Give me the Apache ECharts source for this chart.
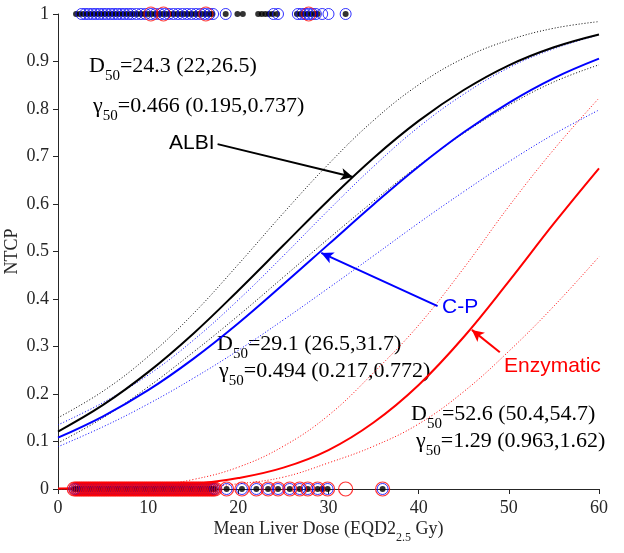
<!DOCTYPE html>
<html>
<head>
<meta charset="utf-8">
<script src="https://cdn.jsdelivr.net/npm/echarts@6/dist/echarts.min.js"></script>
<style>html,body{margin:0;padding:0;background:#fff}#c{width:624px;height:553px}</style>
</head>
<body>
<div id="c"></div>
<script>
// ---- data ----
const doses = [0, 5, 10, 15, 20, 25, 30, 35, 40, 45, 50, 55, 60];
const albiFit   = [0.121, 0.177, 0.246, 0.327, 0.418, 0.513, 0.608, 0.697, 0.775, 0.840, 0.892, 0.930, 0.957];
const albiUpper = [0.150, 0.206, 0.279, 0.369, 0.473, 0.581, 0.684, 0.776, 0.851, 0.907, 0.945, 0.970, 0.984];
const albiLower = [0.097, 0.150, 0.215, 0.288, 0.365, 0.446, 0.527, 0.606, 0.681, 0.749, 0.808, 0.857, 0.893];
const cpFit     = [0.108, 0.153, 0.208, 0.274, 0.349, 0.431, 0.515, 0.599, 0.679, 0.751, 0.813, 0.865, 0.906];
const cpUpper   = [0.135, 0.182, 0.240, 0.313, 0.398, 0.491, 0.587, 0.679, 0.762, 0.831, 0.887, 0.927, 0.956];
const cpLower   = [0.089, 0.131, 0.179, 0.233, 0.292, 0.356, 0.423, 0.491, 0.560, 0.626, 0.689, 0.747, 0.798];
const enzFit    = [0.001, 0.002, 0.004, 0.010, 0.023, 0.045, 0.082, 0.140, 0.219, 0.320, 0.437, 0.559, 0.675];
const enzUpper  = [0.000, 0.001, 0.006, 0.020, 0.046, 0.090, 0.155, 0.245, 0.345, 0.465, 0.595, 0.715, 0.823];
const enzLower  = [0.000, 0.000, 0.001, 0.004, 0.011, 0.025, 0.055, 0.090, 0.137, 0.205, 0.290, 0.385, 0.489];

const albiEvents = [2.0,2.4,2.8,3.2,3.6,4.0,4.4,4.8,5.2,5.6,6.0,6.4,6.8,7.2,7.6,8.0,8.4,8.8,9.2,9.6,10.0,10.4,10.8,11.2,11.6,12.0,12.4,12.8,13.2,13.6,14.0,14.4,14.8,15.2,15.6,16.0,16.4,16.8,17.1,18.6,19.9,20.5,22.2,22.6,23.0,23.4,23.8,24.3,26.5,26.9,27.3,27.7,28.1,28.5,28.8,31.9];
const cpEvents   = [2.6,3.0,3.4,3.8,4.2,4.6,5.0,5.4,5.8,6.2,6.6,7.0,7.4,7.8,8.2,8.7,9.2,9.7,10.3,10.8,11.3,11.8,12.3,12.8,13.3,13.8,14.3,14.8,15.3,15.8,16.3,16.8,17.2,18.6,23.9,24.4,26.6,27.0,27.4,27.8,28.2,28.6,29.3,30.0,31.9];
const enzEvents  = [10.3,11.7,16.4,27.8];
const lowDoses = [1.8,2.0,2.2,2.4,2.6,2.8,3.0,3.2,3.4,3.6,3.8,4.0,4.2,4.4,4.6,4.8,5.0,5.2,5.4,5.6,5.8,6.0,6.2,6.4,6.6,6.8,7.0,7.2,7.4,7.6,7.8,8.0,8.2,8.4,8.6,8.8,9.0,9.2,9.4,9.6,9.8,10.0,10.2,10.4,10.6,10.8,11.0,11.2,11.4,11.6,11.8,12.0,12.2,12.4,12.6,12.8,13.0,13.2,13.4,13.6,13.8,14.0,14.2,14.4,14.6,14.8,15.0,15.2,15.4,15.6,15.8,16.0,16.2,16.4,16.6,16.8,17.0,17.2,17.4];
const albiNon = lowDoses.concat([18.7,20.4,22.0,23.3,24.4,25.7,26.8,27.7,28.8,29.3,29.9,36.0]);
const cpNon   = lowDoses.concat([18.7,20.4,22.0,23.3,24.4,25.7,26.8,27.7,28.8,29.9,36.0]);
const enzNon  = lowDoses.concat([18.7,20.4,22.0,23.3,24.4,25.7,26.8,27.7,28.8,29.9,31.9,36.0]);

const xTicks = [0, 10, 20, 30, 40, 50, 60];
const yTicks = [0, 0.1, 0.2, 0.3, 0.4, 0.5, 0.6, 0.7, 0.8, 0.9, 1];

const albiArrow = [[17.7, 0.726], [32.7, 0.657]];
const cpArrow   = [[42.1, 0.385], [29.2, 0.497]];
const enzArrow  = [[49.0, 0.288], [45.9, 0.335]];

// ---- chart ----
const BLACK = '#000000', BLUE = '#0000FF', RED = '#FF0000', AX = '#262626';
const SERIF = 'Liberation Serif';
const SANS = 'Liberation Sans';
const pairs = arr => doses.map((d, i) => [d, arr[i]]);

function curve(name, arr, color, width, dotted, z) {
  return {
    name, type: 'line', data: pairs(arr), smooth: 0.4,
    symbol: 'none', silent: true, z: z || 3,
    lineStyle: { color, width, type: dotted ? [1, 2] : 'solid' }
  };
}
function arrow(pts, color) {
  return {
    silent: true, symbol: ['none', 'arrow'], symbolSize: [9, 12],
    label: { show: false },
    lineStyle: { color, width: 2, type: 'solid' },
    data: [[{ coord: pts[0] }, { coord: pts[1] }]]
  };
}
function dots(arr, y, opts) {
  return Object.assign({
    type: 'scatter', silent: true, clip: false,
    data: arr.map(d => [d, y])
  }, opts);
}

const subRich = color => ({
  m: { fontFamily: SERIF, fontSize: 22, lineHeight: 24, verticalAlign: 'top', color },
  s: { fontFamily: SERIF, fontSize: 15, lineHeight: 16, padding: [14, 0, 0, 0], verticalAlign: 'top', color }
});
function paramText(left, top, color, sym, rest) {
  return {
    type: 'text', left, top, silent: true,
    style: {
      text: `{m|${sym}}{s|50}{m|${rest}}`,
      fontFamily: SERIF,
      rich: subRich(color)
    }
  };
}

const chart = echarts.init(document.getElementById('c'), null, { renderer: 'canvas' });
chart.setOption({
  animation: false,
  backgroundColor: '#fff',
  grid: { left: 58, right: 25, top: 14, bottom: 64, containLabel: false, outerBoundsMode: 'none' },
  xAxis: {
    type: 'value', min: 0, max: 60, interval: 10,
    name: '{a|Mean Liver Dose (EQD2}{s|2.5}{a| Gy)}',
    nameLocation: 'middle', nameGap: 31, nameMoveOverlap: false,
    nameTextStyle: {
      fontFamily: SERIF,
      rich: {
        a: { fontFamily: SERIF, fontSize: 18, lineHeight: 20, verticalAlign: 'top', color: AX },
        s: { fontFamily: SERIF, fontSize: 12, lineHeight: 13, padding: [12, 0, 0, 0], verticalAlign: 'top', color: AX }
      }
    },
    axisLine: { show: true, lineStyle: { color: AX, width: 1 } },
    axisTick: { show: true, inside: false, length: 5, lineStyle: { color: AX } },
    axisLabel: { fontFamily: SERIF, fontSize: 18, color: AX, margin: 10,
      formatter: v => xTicks.includes(v) ? String(v) : '' },
    splitLine: { show: false }
  },
  yAxis: {
    type: 'value', min: 0, max: 1, interval: 0.1,
    name: 'NTCP', nameLocation: 'middle', nameGap: 37, nameMoveOverlap: false,
    nameTextStyle: { fontFamily: SERIF, fontSize: 18, color: AX },
    axisLine: { show: true, lineStyle: { color: AX, width: 1 } },
    axisTick: { show: true, inside: false, length: 5, lineStyle: { color: AX } },
    axisLabel: { fontFamily: SERIF, fontSize: 18, color: AX, margin: 9,
      formatter: v => { const t = yTicks.find(k => Math.abs(k - v) < 1e-9); return t === undefined ? '' : String(t); } },
    splitLine: { show: false }
  },
  series: [
    curve('ALBI upper', albiUpper, BLACK, 1, true, 2),
    curve('ALBI lower', albiLower, BLACK, 1, true, 2),
    curve('C-P upper', cpUpper, BLUE, 1, true, 2),
    curve('C-P lower', cpLower, BLUE, 1, true, 2),
    curve('Enzymatic upper', enzUpper, RED, 1, true, 2),
    curve('Enzymatic lower', enzLower, RED, 1, true, 2),
    Object.assign(curve('ALBI', albiFit, BLACK, 2, false, 4), { markLine: arrow(albiArrow, BLACK) }),
    Object.assign(curve('C-P', cpFit, BLUE, 2, false, 4), { markLine: arrow(cpArrow, BLUE) }),
    Object.assign(curve('Enzymatic', enzFit, RED, 2, false, 4), { markLine: arrow(enzArrow, RED) }),
    dots(albiEvents, 1, { symbol: 'circle', symbolSize: 6, itemStyle: { color: BLACK }, z: 5 }),
    dots(albiNon, 0, { symbol: 'circle', symbolSize: 6, itemStyle: { color: BLACK }, z: 5 }),
    dots(cpEvents, 1, { symbol: 'circle', symbolSize: 11, itemStyle: { color: 'rgba(0,0,0,0)', borderColor: BLUE, borderWidth: 1 }, z: 6 }),
    dots(cpNon, 0, { symbol: 'circle', symbolSize: 11, itemStyle: { color: 'rgba(0,0,0,0)', borderColor: BLUE, borderWidth: 1 }, z: 6 }),
    dots(enzEvents, 1, { symbol: 'circle', symbolSize: 14, itemStyle: { color: 'rgba(0,0,0,0)', borderColor: RED, borderWidth: 1 }, z: 7 }),
    dots(enzNon, 0, { symbol: 'circle', symbolSize: 14, itemStyle: { color: 'rgba(0,0,0,0)', borderColor: RED, borderWidth: 1.2 }, z: 7 })
  ],
  graphic: [
    paramText(89, 55, BLACK, 'D', '=24.3 (22,26.5)'),
    paramText(93, 95, BLACK, 'γ', '=0.466 (0.195,0.737)'),
    paramText(217, 333, BLUE, 'D', '=29.1 (26.5,31.7)'),
    paramText(219, 360, BLUE, 'γ', '=0.494 (0.217,0.772)'),
    paramText(411, 403, RED, 'D', '=52.6 (50.4,54.7)'),
    paramText(416, 430, RED, 'γ', '=1.29 (0.963,1.62)'),
    { type: 'text', left: 169, top: 133, silent: true, style: { text: 'ALBI', fontFamily: SANS, fontSize: 21, fill: BLACK } },
    { type: 'text', left: 442, top: 297, silent: true, style: { text: 'C-P', fontFamily: SANS, fontSize: 21, fill: BLUE } },
    { type: 'text', left: 504, top: 356, silent: true, style: { text: 'Enzymatic', fontFamily: SANS, fontSize: 21, fill: RED } }
  ]
});
</script>
</body>
</html>
